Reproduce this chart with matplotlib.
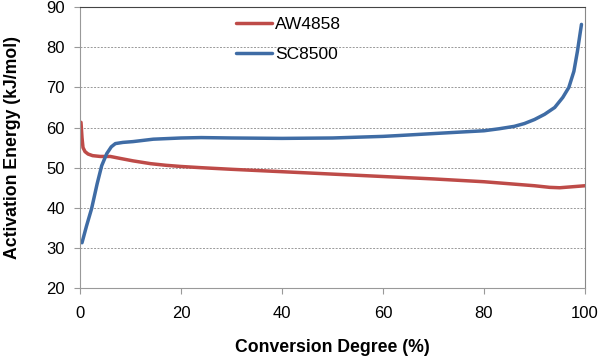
import matplotlib.pyplot as plt

plt.rcParams['font.family'] = ['Liberation Sans', 'DejaVu Sans']

# AW4858 curve
aw_x = [0.2, 0.4, 0.6, 1.0, 1.6, 2.5, 4, 6, 8, 10.5, 14, 17, 20, 24, 30, 40, 50, 60, 70, 80, 85, 90, 93, 95, 97, 100]
aw_y = [61.3, 57.5, 55.0, 54.0, 53.4, 53.0, 52.8, 52.8, 52.3, 51.7, 51.0, 50.6, 50.3, 50.0, 49.6, 49.0, 48.4, 47.8, 47.2, 46.5, 46.0, 45.5, 45.1, 45.0, 45.2, 45.5]

# SC8500 curve
sc_x = [0.4, 1.3, 2.3, 3.4, 4.3, 5.3, 6.2, 7.0, 8.5, 10.5, 14.5, 20, 24, 30, 40, 50, 60, 63, 70, 80, 83, 86, 88, 90, 92, 94, 95.6, 96.8, 97.8, 98.5, 99.3]
sc_y = [31.3, 35.5, 39.8, 46.0, 50.5, 53.5, 55.2, 56.0, 56.3, 56.5, 57.1, 57.4, 57.5, 57.4, 57.3, 57.4, 57.8, 58.0, 58.5, 59.2, 59.7, 60.3, 61.0, 62.0, 63.3, 65.0, 67.5, 70.0, 74.0, 79.0, 85.7]

fig = plt.figure(figsize=(6, 3.57), dpi=100)
ax = fig.add_axes([0.1333, 0.193, 0.8417, 0.787])

ax.plot(aw_x, aw_y, color='#BE4B48', lw=2.5, label='AW4858', solid_capstyle='round')
ax.plot(sc_x, sc_y, color='#3F6CA5', lw=2.5, label='SC8500', solid_capstyle='round')

ax.set_xlim(0, 100)
ax.set_ylim(20, 90)
ax.set_xticks([0, 20, 40, 60, 80, 100])
ax.set_yticks([20, 30, 40, 50, 60, 70, 80, 90])
ax.tick_params(labelsize=12, direction='out', length=4, color='#999999')
ax.tick_params(axis='x', pad=9)
ax.tick_params(axis='y', pad=7)

for y in [30, 40, 50, 60, 70, 80]:
    ax.axhline(y, color='#999999', lw=0.7, ls=(0, (2, 1.5)), zorder=0)

ax.spines['left'].set_color('#999999')
ax.spines['bottom'].set_color('#999999')
ax.spines['right'].set_color('#888888')
ax.spines['top'].set_color('#444444')

ax.set_xlabel('Conversion Degree (%)', fontsize=12.7, fontweight='bold', labelpad=13)
ax.set_ylabel('Activation Energy (kJ/mol)', fontsize=12.7, fontweight='bold', labelpad=18)

ax.legend(loc='upper left', bbox_to_anchor=(0.295, 0.99), borderaxespad=0, frameon=False,
          fontsize=12.5, handlelength=2.07, handletextpad=0.2, labelspacing=0.88)

fig.savefig('out.png', dpi=100)
